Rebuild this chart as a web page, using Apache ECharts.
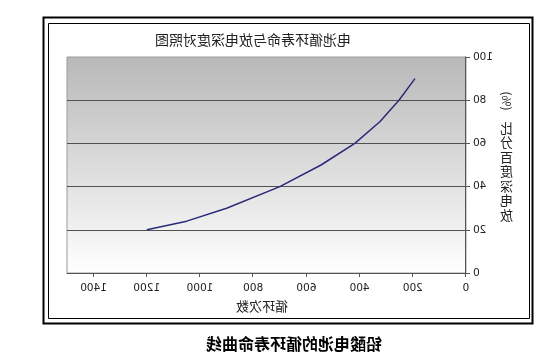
<!DOCTYPE html>
<html>
<head>
<meta charset="utf-8">
<script src="https://cdn.jsdelivr.net/npm/echarts@6/dist/echarts.min.js"></script>
<style>
html,body{margin:0;padding:0;background:#fff;}
#c{position:absolute;left:0;top:0;width:550px;height:364px;transform:scaleX(-1);transform-origin:275px 182px;}
</style>
</head>
<body>
<div id="c"></div>
<script>
// Data (reference picture is horizontally mirrored; drawn normally then mirrored with CSS)
const titleText = '电池循环寿命与放电深度对照图';
const xName = '循环次数';
const yNameChars = ['放', '电', '深', '度', '百', '分', '比'];
const yNameUnit = '(%)';
const caption = '铅酸电池的循环寿命曲线';
const cycles = [1200, 1050, 900, 700, 545, 418, 324, 252, 192];
const dod = [20, 24, 30, 40, 50, 60, 70, 80, 90];
const xTicks = [0, 200, 400, 600, 800, 1000, 1200, 1400];
const yTicks = [0, 20, 40, 60, 80, 100];

const chart = echarts.init(document.getElementById('c'), null, {renderer: 'canvas'});
const cjk = '"Noto Sans CJK SC", "Noto Sans", sans-serif';
const num = '"DejaVu Sans", sans-serif';

const graphics = [
  {type: 'rect', shape: {x: 17.5, y: 17.5, width: 489, height: 306}, style: {fill: null, stroke: '#000', lineWidth: 2}, silent: true, z: 10},
  {type: 'rect', shape: {x: 20.5, y: 23.5, width: 481, height: 295}, style: {fill: null, stroke: '#000', lineWidth: 1}, silent: true, z: 10},
  {type: 'text', x: 297, y: 39.5, style: {text: titleText, fill: '#222', fontSize: 14, fontFamily: cjk, align: 'center', verticalAlign: 'middle'}, z: 10},
  {type: 'text', x: 288, y: 306.5, style: {text: xName, fill: '#222', fontSize: 13, fontFamily: cjk, align: 'center', verticalAlign: 'middle'}, z: 10},
  {type: 'text', x: 256, y: 344, style: {text: caption, fill: '#000', fontSize: 16, fontWeight: 'bold', fontFamily: cjk, align: 'center', verticalAlign: 'middle'}, z: 10},
  {type: 'text', x: 43.5, y: 101, rotation: Math.PI / 2, style: {text: yNameUnit, fill: '#222', fontSize: 12, fontFamily: cjk, align: 'center', verticalAlign: 'middle'}, z: 10}
];
yNameChars.forEach(function (ch, i) {
  graphics.push({type: 'text', x: 43.5, y: 215 - i * 14.5, style: {text: ch, fill: '#222', fontSize: 13, fontFamily: cjk, align: 'center', verticalAlign: 'middle'}, z: 10});
});

chart.setOption({
  animation: false,
  backgroundColor: '#fff',
  grid: {
    left: 84, top: 57, width: 399, height: 216,
    show: true,
    borderColor: '#9a9a9a', borderWidth: 1,
    backgroundColor: new echarts.graphic.LinearGradient(0, 0, 0, 1, [
      {offset: 0, color: '#b8b8b8'},
      {offset: 1, color: '#ffffff'}
    ])
  },
  xAxis: {
    type: 'value', min: 0, max: 1500, interval: 200,
    axisLine: {show: true, lineStyle: {color: '#555', width: 1}},
    axisTick: {show: true, length: 4, lineStyle: {color: '#555'}, customValues: xTicks},
    axisLabel: {color: '#222', fontSize: 10.5, fontFamily: num, margin: 10, customValues: xTicks,
      formatter: function (v) { return String(v); }},
    splitLine: {show: false}
  },
  yAxis: {
    type: 'value', min: 0, max: 100, interval: 20,
    axisLine: {show: true, lineStyle: {color: '#555', width: 1}},
    axisTick: {show: true, length: 4, lineStyle: {color: '#555'}},
    axisLabel: {color: '#222', fontSize: 10.5, fontFamily: num, margin: 7,
      formatter: function (v) { return String(v); }},
    splitLine: {show: true, showMaxLine: false, showMinLine: false, lineStyle: {color: '#505050', width: 1}}
  },
  series: [{
    type: 'line',
    data: cycles.map(function (c, i) { return [c, dod[i]]; }),
    symbol: 'none',
    smooth: false,
    lineStyle: {color: '#2a2a7a', width: 1.5},
    z: 5
  }],
  graphic: graphics
});
</script>
</body>
</html>
